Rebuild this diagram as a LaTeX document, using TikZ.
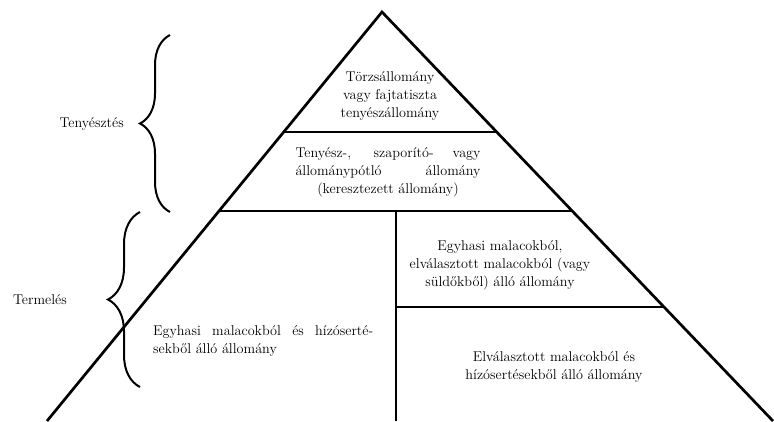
\documentclass[tikz,border=0pt]{standalone}
\usetikzlibrary{calc, positioning, decorations.pathreplacing}

\begin{document}
\begin{tikzpicture}[x=1pt, y=-1pt,
    edge/.style={line width=2.7pt},
    thin/.style={line width=1.7pt},
    curly/.style={decorate, decoration={brace, amplitude=#1}, line width=2pt},
    txt/.style={font=\fontsize{14.2}{18}\selectfont, inner sep=0pt, align=center}]
    \useasboundingbox (0,0) rectangle (774,421);
    \coordinate (apex) at (382,12);
    \coordinate (bl) at (47,421);
    \coordinate (br) at (773,421);
    \coordinate (l1) at ($(apex)!0.2934!(bl)$);
    \coordinate (r1) at ($(apex)!0.2934!(br)$);
    \coordinate (l2) at ($(apex)!0.4866!(bl)$);
    \coordinate (r2) at ($(apex)!0.4866!(br)$);
    \coordinate (r3) at ($(apex)!0.7213!(br)$);
    \coordinate (m4) at (396,421);
    \coordinate (m2) at (m4 |- l2);
    \coordinate (m3) at (m4 |- r3);
    \draw[edge] (bl) -- (apex) -- (br);
    \draw[edge] (l1) -- (r1);
    \draw[edge] (l2) -- (r2);
    \draw[thin] (m2) -- (m4);
    \draw[thin] (m3) -- (r3);

    \coordinate (b1s) at (170,212);
    \coordinate (b1e) at (170,35);
    \coordinate (b1tip) at (140,123.5);
    \coordinate (b2s) at (140,387);
    \coordinate (b2e) at (140,212);
    \coordinate (b2tip) at (108,299.5);
    \draw[curly=30pt] (b1s) -- (b1e);
    \draw[curly=32pt] (b2s) -- (b2e);
    \node[txt, left=16pt of b1tip] (breed) {Tenyésztés};
    \node[txt, left=41pt of b2tip] (prod) {Termelés};

    \node[txt] (nucleus) at (390,96) {Törzsállomány\\vagy fajtatiszta\\tenyészállomány};
    \node[txt] (multiplier) at (388,172) {\makebox[185pt][s]{Tenyész-, szaporító- vagy}\\
        \makebox[185pt][s]{állománypótló állomány}\\(keresztezett állomány)};
    \node[txt, align=left, anchor=west] (farrow) at (153,341) {\makebox[220pt][s]{Egyhasi malacokból és hízóserté-}\\
        sekből álló állomány};
    \node[txt] (weaner) at (500,265) {Egyhasi malacokból,\\elválasztott malacokból (vagy\\süldőkből) álló állomány};
    \node[txt] (finisher) at (554,367) {Elválasztott malacokból és\\hízósertésekből álló állomány};
\end{tikzpicture}
\end{document}
